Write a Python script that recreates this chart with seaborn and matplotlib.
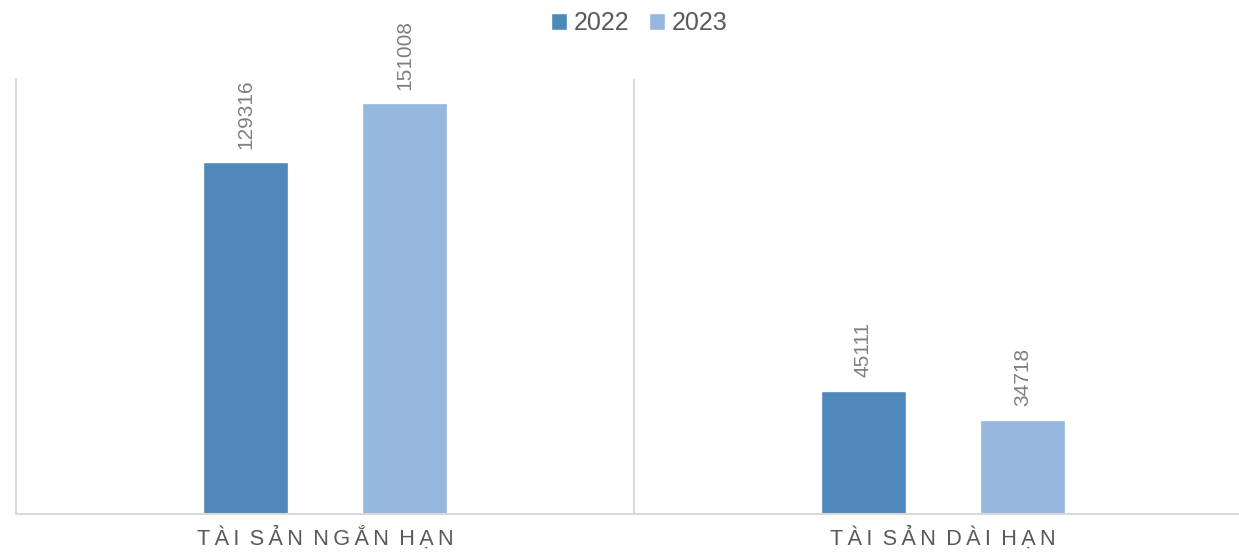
import pandas as pd
import matplotlib.pyplot as plt
import seaborn as sns

# Chart data
categories = ['TÀI SẢN NGẮN HẠN', 'TÀI SẢN DÀI HẠN']
years = ['2022', '2023']
values_2022 = [129316, 45111]
values_2023 = [151008, 34718]

colors = {'2022': '#4F88BB', '2023': '#96B8DE'}
text_grey = '#595959'
line_grey = '#D9D9D9'


def spaced(text, sep='\u2009'):
    # Emulate the expanded character spacing of the original labels
    words = [sep.join(w) for w in text.split(' ')]
    return (' ' + sep).join(words)


df = pd.DataFrame({
    'category': categories * 2,
    'year': [years[0]] * len(categories) + [years[1]] * len(categories),
    'value': values_2022 + values_2023,
})

sns.set_style('white')
plt.rcParams['font.family'] = ['Liberation Sans', 'DejaVu Sans']

fig = plt.figure(figsize=(12.39, 5.53), dpi=100)
ax = fig.add_axes([16 / 1239, 1 - 514 / 553, 1236 / 1239, 435 / 553])

sns.barplot(
    data=df,
    x='category',
    y='value',
    hue='year',
    palette=colors,
    width=0.515,
    gap=0.466,
    saturation=1,
    ax=ax,
    legend=True,
)

# Value labels on top of the bars
for container in ax.containers:
    ax.bar_label(container, labels=[f'{v:.0f}' for v in container.datavalues],
                 rotation=90, padding=10, fontsize=15, color='#7F7F7F')

ax.set_xlim(-0.5, 1.5)
ax.set_ylim(0, 160000)
ax.set_xlabel('')
ax.set_ylabel('')
ax.set_yticks([])
ax.set_xticks(range(len(categories)))
ax.set_xticklabels([spaced(c) for c in categories], fontsize=15.6, color=text_grey)
ax.tick_params(axis='x', length=0, pad=9)

# Spines and the category separator
for side in ['top', 'right']:
    ax.spines[side].set_visible(False)
for side in ['left', 'bottom']:
    ax.spines[side].set_color(line_grey)
    ax.spines[side].set_linewidth(1.5)
ax.axvline(0.5, color=line_grey, linewidth=1.5, zorder=0)

# Legend at the top
handles, labels = ax.get_legend_handles_labels()
ax.legend(handles, labels, loc='center', bbox_to_anchor=(623 / 1236, 1 + 56 / 435),
          ncol=2, frameon=False, fontsize=18, handlelength=0.65, handleheight=0.65,
          handletextpad=0.25, columnspacing=0.8, labelcolor=text_grey)

fig.savefig('out.png', dpi=100)
